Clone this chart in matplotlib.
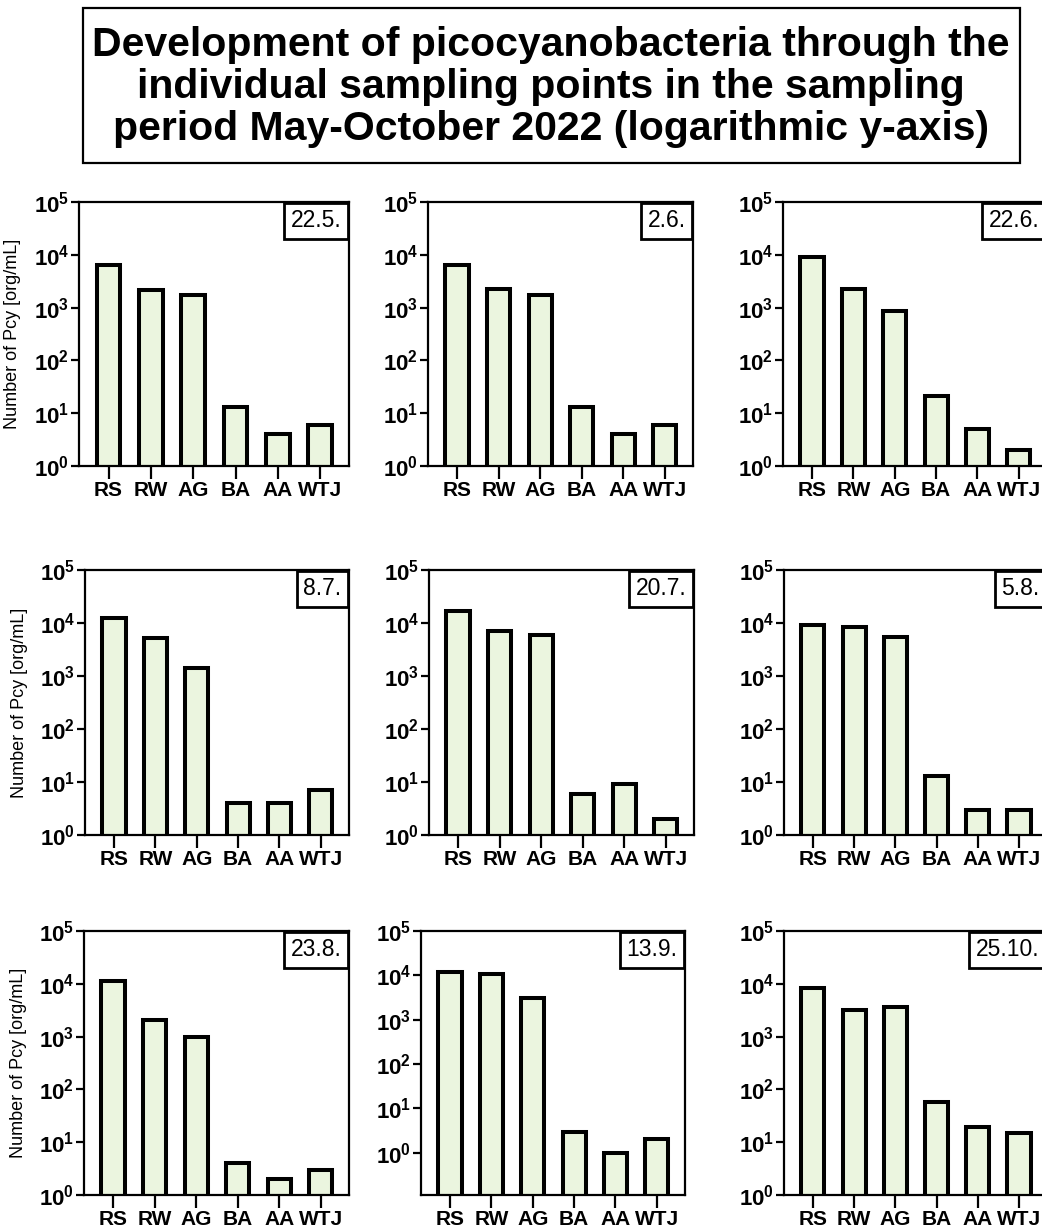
import matplotlib
matplotlib.use('Agg')
import matplotlib.pyplot as plt
from matplotlib.patches import Rectangle
from matplotlib.ticker import FixedLocator, NullLocator


# Sampling points and sampling dates
sites = ['RS', 'RW', 'AG', 'BA', 'AA', 'WTJ']
dates = ['22.5.', '2.6.', '22.6.', '8.7.', '20.7.', '5.8.', '23.8.', '13.9.', '25.10.']

# Number of Pcy [org/mL] per sampling point, one list per date
pcy_22_5 = [6300, 2200, 1750, 13, 4, 6]
pcy_2_6 = [6300, 2250, 1750, 13, 4, 6]
pcy_22_6 = [9000, 2250, 850, 21, 5, 2]
pcy_8_7 = [12500, 5300, 1400, 4, 4, 7]
pcy_20_7 = [17000, 7000, 6000, 6, 9, 2]
pcy_5_8 = [9300, 8400, 5500, 13, 3, 3]
pcy_23_8 = [11500, 2100, 1000, 4, 2, 3]
pcy_13_9 = [12000, 10500, 3100, 3, 1, 2]
pcy_25_10 = [8500, 3200, 3600, 57, 19, 15]

values = [pcy_22_5, pcy_2_6, pcy_22_6, pcy_8_7, pcy_20_7,
          pcy_5_8, pcy_23_8, pcy_13_9, pcy_25_10]

plt.rcParams['font.family'] = 'Liberation Sans'
plt.rcParams['mathtext.fontset'] = 'custom'
plt.rcParams['mathtext.rm'] = 'Liberation Sans'
plt.rcParams['mathtext.bf'] = 'Liberation Sans:bold'

W, H = 1042, 1229
fig = plt.figure(figsize=(W / 100, H / 100), dpi=100)

# Title in a box
fig.add_artist(Rectangle((83 / W, 1 - 163 / H), (1020 - 83) / W, (163 - 8) / H,
                         transform=fig.transFigure, fill=False, ec='black', lw=1.6))
fig.text(551 / W, 1 - 87 / H,
         'Development of picocyanobacteria through the\n'
         'individual sampling points in the sampling\n'
         'period May-October 2022 (logarithmic y-axis)',
         ha='center', va='center', fontsize=29.5, fontweight='bold', linespacing=1.15)

# Panel boxes in pixels: (left, right, top, bottom)
rows = [(202, 466), (570, 835), (931, 1195)]
cols = [[(79, 349), (428, 693), (783, 1047)],
        [(85, 349), (429, 694), (784, 1047)],
        [(84, 349), (421, 685), (784, 1047)]]

for i, (date, vals) in enumerate(zip(dates, values)):
    r, c = divmod(i, 3)
    left, right = cols[r][c]
    top, bottom = rows[r]
    ax = fig.add_axes([left / W, 1 - bottom / H, (right - left) / W, (bottom - top) / H])
    ax.set_yscale('log')
    ax.bar(range(len(sites)), vals, width=0.56, color='#ebf5df',
           edgecolor='black', linewidth=2.9, zorder=2)

    ax.set_xlim(-0.7, 5.68)
    if date == '13.9.':
        ax.set_ylim(10 ** -0.95, 1e5)
    else:
        ax.set_ylim(1, 1e5)

    ax.yaxis.set_major_locator(FixedLocator([1, 10, 100, 1e3, 1e4, 1e5]))
    ax.yaxis.set_minor_locator(NullLocator())
    ax.set_yticklabels([r'$\mathbf{10^{%d}}$' % k for k in range(6)], fontsize=16)
    ax.set_xticks(range(len(sites)))
    ax.set_xticklabels(sites, fontsize=15, fontweight='bold')
    ax.tick_params(axis='y', direction='out', length=6, width=1.6, pad=1)
    ax.tick_params(axis='x', direction='out', length=9, width=1.6, pad=2)
    for s in ax.spines.values():
        s.set_linewidth(1.6)

    if c == 0:
        ax.set_ylabel('Number of Pcy [org/mL]', fontsize=13)
        ax.yaxis.set_label_coords(-0.215, 0.5)

    ax.text(0.972, 0.972, date, transform=ax.transAxes, ha='right', va='top',
            fontsize=16.5, bbox=dict(boxstyle='square,pad=0.3', fc='white',
                                     ec='black', lw=2))

fig.savefig('out.png', dpi=100)
